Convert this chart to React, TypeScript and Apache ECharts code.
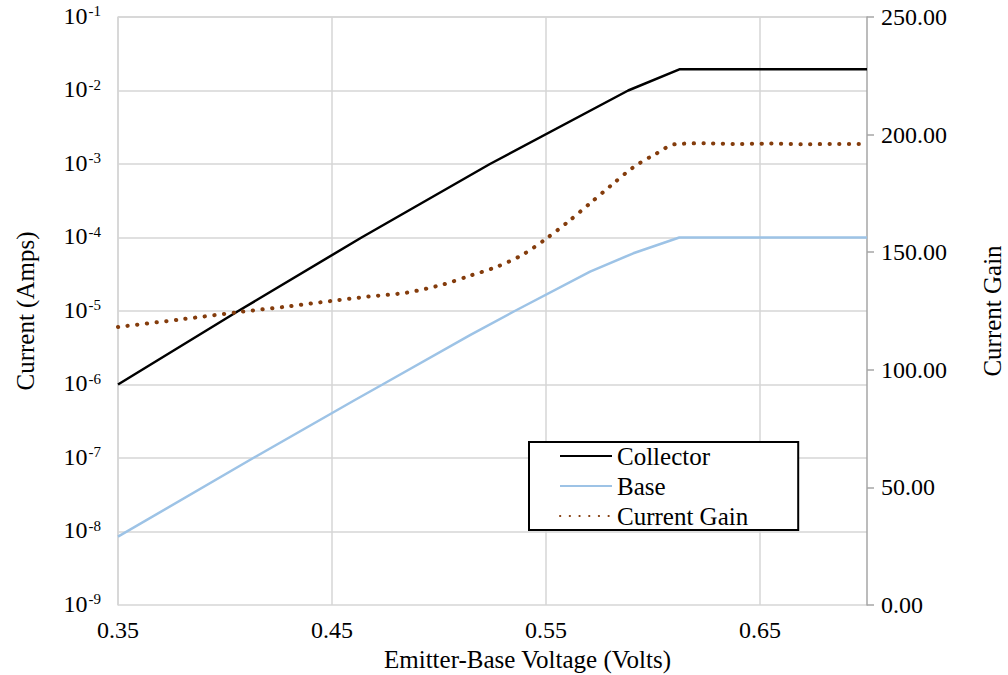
import React, { useEffect, useRef } from "react";
import * as echarts from "echarts";

const FONT = "Liberation Serif";

// Collector current (A) against emitter-base voltage (V)
const collectorVolts = [0.35, 0.4062, 0.4638, 0.5238, 0.5884, 0.6126, 0.7];
const collectorAmps = [1e-6, 1e-5, 1e-4, 1e-3, 1e-2, 1.95e-2, 1.95e-2];

// Base current (A)
const baseVolts = [0.35, 0.4132, 0.4607, 0.4736, 0.5145, 0.5354, 0.5706, 0.5908, 0.6123, 0.7];
const baseAmps = [8.5e-9, 1e-7, 6.15e-7, 1e-6, 4.7e-6, 1e-5, 3.43e-5, 6.1e-5, 1e-4, 1e-4];

// Current gain (collector / base)
const gainVolts = [
  0.35, 0.38, 0.407, 0.43, 0.45, 0.4668, 0.4849, 0.502, 0.5145, 0.527, 0.5394,
  0.5503, 0.5604, 0.5706, 0.5807, 0.5908, 0.6017, 0.6103, 0.625, 0.64, 0.655,
  0.67, 0.685, 0.7,
];
const gainValues = [
  118.2, 121.5, 124.6, 127.0, 129.3, 131.1, 132.8, 136.3, 140.0, 143.8, 149.1,
  155.9, 163.0, 170.8, 178.6, 186.1, 192.0, 195.9, 196.3, 196.0, 196.2, 195.9,
  196.0, 196.0,
];

const voltTicks = [0.35, 0.45, 0.55, 0.65];

const zip = (xs: number[], ys: number[]) => xs.map((x, i) => [x, ys[i]]);

export default function App() {
  const ref = useRef<HTMLDivElement>(null);

  useEffect(() => {
    if (!ref.current) return;
    const chart = echarts.init(ref.current, undefined, { renderer: "svg" });

    const gridColor = "#d6d6d6";
    const tickSize = 24;
    const titleSize = 25;

    chart.setOption({
      animation: false,
      backgroundColor: "#fff",
      textStyle: { fontFamily: FONT },
      grid: {
        left: 118,
        right: 141,
        top: 17,
        bottom: 70,
        containLabel: false,
        outerBoundsMode: "none",
      },
      legend: {
        orient: "vertical",
        left: 529,
        top: 442,
        padding: [1.5, 50, 1.5, 30],
        itemGap: 5,
        itemWidth: 52,
        itemHeight: 14,
        itemStyle: { opacity: 0 },
        borderColor: "#000",
        borderWidth: 2,
        backgroundColor: "#fff",
        textStyle: { fontFamily: FONT, fontSize: titleSize, color: "#000" },
        data: ["Collector", "Base", "Current Gain"],
      },
      xAxis: {
        type: "value",
        min: 0.35,
        max: 0.7,
        name: "Emitter-Base Voltage (Volts)",
        nameLocation: "middle",
        nameGap: 42,
        nameTextStyle: { fontFamily: FONT, fontSize: titleSize, color: "#000", padding: [0, 0, 0, 70] },
        axisLine: { show: false },
        axisTick: { show: false, customValues: voltTicks },
        axisLabel: {
          customValues: voltTicks,
          formatter: (v: number) => v.toFixed(2),
          fontFamily: FONT,
          fontSize: tickSize,
          color: "#000",
          margin: 13,
        },
        splitLine: { show: true, lineStyle: { color: gridColor, width: 1.5 } },
      },
      yAxis: [
        {
          type: "log",
          logBase: 10,
          min: 1e-9,
          max: 1e-1,
          position: "left",
          name: "Current (Amps)",
          nameLocation: "middle",
          nameGap: 80,
          nameRotate: 90,
          nameTextStyle: { fontFamily: FONT, fontSize: titleSize, color: "#000" },
          axisLine: { show: true, lineStyle: { color: gridColor, width: 1.5 } },
          axisTick: { show: false },
          axisLabel: {
            margin: 17,
            formatter: (v: number) => `{b|10}{s|${Math.round(Math.log10(v))}}`,
            rich: {
              b: { fontFamily: FONT, fontSize: tickSize, color: "#000", verticalAlign: "top", lineHeight: 27 },
              s: { fontFamily: FONT, fontSize: 15, color: "#000", verticalAlign: "top", lineHeight: 27, padding: [0, 0, 0, 1] },
            },
          },
          splitLine: { show: true, lineStyle: { color: gridColor, width: 1.5 } },
        },
        {
          type: "value",
          min: 0,
          max: 250,
          interval: 50,
          position: "right",
          name: "Current Gain",
          nameLocation: "middle",
          nameGap: 113,
          nameRotate: 90,
          nameTextStyle: { fontFamily: FONT, fontSize: titleSize, color: "#000" },
          axisLine: { show: true, lineStyle: { color: "#a6a6a6", width: 1.5 } },
          axisTick: { show: true, inside: false, length: 7, lineStyle: { color: "#a6a6a6", width: 1.5 } },
          axisLabel: {
            margin: 14,
            formatter: (v: number) => v.toFixed(2),
            fontFamily: FONT,
            fontSize: tickSize,
            color: "#000",
          },
          splitLine: { show: false },
        },
      ],
      series: [
        {
          name: "Collector",
          type: "line",
          yAxisIndex: 0,
          symbol: "none",
          data: zip(collectorVolts, collectorAmps),
          lineStyle: { color: "#000", width: 2.5 },
          itemStyle: { color: "#000" },
          z: 3,
        },
        {
          name: "Base",
          type: "line",
          yAxisIndex: 0,
          symbol: "none",
          data: zip(baseVolts, baseAmps),
          lineStyle: { color: "#9dc3e6", width: 2.5 },
          itemStyle: { color: "#9dc3e6" },
          z: 3,
        },
        {
          name: "Current Gain",
          type: "line",
          yAxisIndex: 1,
          symbol: "none",
          smooth: 0.3,
          data: zip(gainVolts, gainValues),
          lineStyle: { color: "#843c0c", width: 4, type: [0.3, 9.4], cap: "round" },
          itemStyle: { color: "#843c0c" },
          z: 4,
        },
      ],
    });

    return () => chart.dispose();
  }, []);

  return (
    <div
      ref={ref}
      style={{ position: "fixed", left: 0, top: 0, width: 1008, height: 675, background: "#fff" }}
    />
  );
}
